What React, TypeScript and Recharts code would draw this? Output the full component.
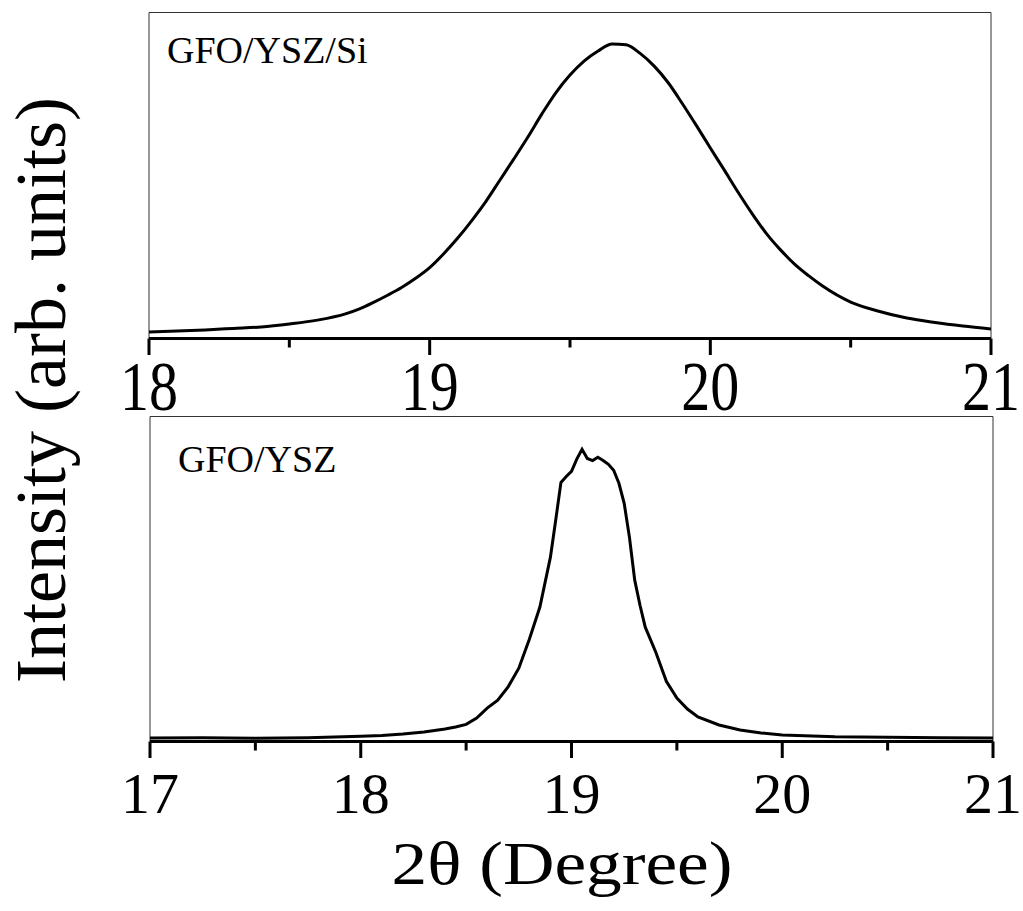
import React from 'react';
import { LineChart, Line, XAxis, YAxis, ReferenceArea } from 'recharts';

// GFO/YSZ/Si panel (2θ in degrees, intensity in arbitrary units)
const topTheta = [
  18.0, 18.1, 18.2, 18.3, 18.4, 18.5, 18.6, 18.7, 18.75, 18.8, 18.85, 18.9, 18.95,
  19.0, 19.05, 19.1, 19.15, 19.2, 19.25, 19.3, 19.35, 19.4, 19.45, 19.5, 19.55,
  19.6, 19.65, 19.7, 19.75, 19.8, 19.85, 19.9, 19.95, 20.0, 20.05, 20.1, 20.15,
  20.2, 20.25, 20.3, 20.35, 20.4, 20.5, 20.6, 20.7, 20.8, 20.9, 21.0,
];
const topIntensity = [
  2.2, 2.5, 2.9, 3.4, 3.9, 4.9, 6.2, 8.3, 10.0, 12.2, 14.6, 17.2, 20.3,
  23.9, 28.6, 33.9, 39.8, 46.2, 53.4, 60.6, 68.0, 75.8, 83.0, 88.9, 93.6,
  97.0, 99.4, 99.1, 96.2, 91.9, 86.3, 79.3, 71.9, 64.3, 56.8, 49.2, 42.0,
  35.4, 29.9, 25.1, 21.2, 17.7, 12.3, 9.2, 6.9, 5.4, 4.2, 3.2,
];

// GFO/YSZ panel
const bottomTheta = [
  17.0, 17.25, 17.5, 17.75, 18.0, 18.1, 18.2, 18.3, 18.4, 18.45, 18.5, 18.55, 18.6,
  18.65, 18.7, 18.75, 18.8, 18.85, 18.9, 18.925, 18.95, 18.975, 19.0, 19.025, 19.05,
  19.075, 19.1, 19.125, 19.15, 19.175, 19.2, 19.225, 19.25, 19.275, 19.3, 19.325,
  19.35, 19.4, 19.45, 19.5, 19.55, 19.6, 19.7, 19.8, 19.9, 20.0, 20.25, 20.5,
  20.75, 21.0,
];
const bottomIntensity = [
  1.2, 1.3, 1.1, 1.3, 1.8, 2.0, 2.5, 3.2, 4.2, 4.9, 5.8, 7.9, 11.3,
  14.0, 18.6, 24.8, 34.6, 45.5, 62.4, 74.9, 87.7, 89.7, 91.4, 95.6, 98.9,
  95.8, 95.1, 96.2, 95.1, 93.8, 91.8, 87.4, 80.6, 69.1, 54.6, 46.1,
  38.7, 30.2, 20.4, 14.7, 11.0, 8.3, 5.6, 3.9, 2.9, 2.2, 1.6, 1.4,
  1.3, 1.2,
];

const topTicks = [18, 18.5, 19, 19.5, 20, 20.5, 21];
const topMajor = [18, 19, 20, 21];
const bottomTicks = [17, 17.5, 18, 18.5, 19, 19.5, 20, 20.5, 21];
const bottomMajor = [17, 18, 19, 20, 21];
const yTicks = [10, 20, 30, 40, 50, 60, 70, 80, 90, 100];

const FONT = 'Liberation Serif';

const toRows = (xs: number[], ys: number[]) => xs.map((t, i) => ({ theta: t, intensity: ys[i] }));

const makeTick = (major: number[], scaleY: number) => (props: any) => {
  const { x, y, payload } = props;
  const isMajor = major.includes(payload.value);
  return (
    <g>
      <line x1={x} y1={y} x2={x} y2={y + (isMajor ? 16.5 : 9)} stroke="#000" strokeWidth={3} />
      {isMajor && (
        <g transform={`translate(${x},${y + 71.5}) scale(1,${scaleY})`}>
          <text x={0} y={0} textAnchor="middle" fontFamily={FONT} fontSize={58} fill="#000">
            {payload.value}
          </text>
        </g>
      )}
    </g>
  );
};

interface PanelProps {
  rows: { theta: number; intensity: number }[];
  domain: [number, number];
  ticks: number[];
  major: number[];
  height: number;
  margin: { top: number; right: number; left: number; bottom: number };
  axisHeight: number;
  tickScale: number;
  curve: 'monotone' | 'linear';
}

const Panel: React.FC<PanelProps> = ({ rows, domain, ticks, major, height, margin, axisHeight, tickScale, curve }) => (
  <LineChart width={1023} height={height} data={rows} margin={margin}>
    <ReferenceArea x1={domain[0]} x2={domain[1]} y1={0} y2={110} fill="none" stroke="#333" strokeWidth={1} />
    <XAxis
      dataKey="theta"
      type="number"
      domain={domain}
      ticks={ticks}
      interval={0}
      allowDataOverflow
      height={axisHeight}
      tickSize={0}
      tickMargin={0}
      tickLine={false}
      axisLine={{ stroke: '#000', strokeWidth: 3 }}
      tick={makeTick(major, tickScale)}
    />
    <YAxis
      type="number"
      domain={[0, 110]}
      ticks={yTicks}
      interval={0}
      mirror
      width={0}
      tick={false}
      tickSize={3}
      tickLine={{ stroke: '#000', strokeWidth: 1.5 }}
      axisLine={{ stroke: '#000', strokeWidth: 3 }}
    />
    <Line
      type={curve}
      dataKey="intensity"
      stroke="#000"
      strokeWidth={3}
      dot={false}
      isAnimationActive={false}
    />
  </LineChart>
);

export default function App() {
  return (
    <div style={{ position: 'absolute', left: 0, top: 0, width: 1023, height: 911, background: '#fff' }}>
      <div style={{ position: 'absolute', left: 0, top: 0 }}>
        <Panel
          rows={toRows(topTheta, topIntensity)}
          domain={[18, 21]}
          ticks={topTicks}
          major={topMajor}
          height={432}
          margin={{ top: 12.5, right: 32, left: 149, bottom: 0 }}
          axisHeight={432 - 338.5}
          tickScale={1.2}
          curve="monotone"
        />
      </div>
      <div style={{ position: 'absolute', left: 0, top: 416 }}>
        <Panel
          rows={toRows(bottomTheta, bottomIntensity)}
          domain={[17, 21]}
          ticks={bottomTicks}
          major={bottomMajor}
          height={426}
          margin={{ top: 0.5, right: 30, left: 150, bottom: 0 }}
          axisHeight={426 - 325.5}
          tickScale={1}
          curve="linear"
        />
      </div>
      <svg
        width={1023}
        height={911}
        style={{ position: 'absolute', left: 0, top: 0, pointerEvents: 'none' }}
      >
        <text x={167} y={63} fontFamily={FONT} fontSize={38} fill="#000">GFO/YSZ/Si</text>
        <text x={178} y={472} fontFamily={FONT} fontSize={38} fill="#000">GFO/YSZ</text>
        <g transform="translate(65,390) rotate(-90)">
          <text x={0} y={0} textAnchor="middle" fontFamily={FONT} fontSize={72} fill="#000">
            Intensity (arb. units)
          </text>
        </g>
        <g transform="translate(562,884) scale(1.15,1)">
          <text x={0} y={0} textAnchor="middle" fontFamily={FONT} fontSize={62} fill="#000">
            2θ (Degree)
          </text>
        </g>
      </svg>
    </div>
  );
}
